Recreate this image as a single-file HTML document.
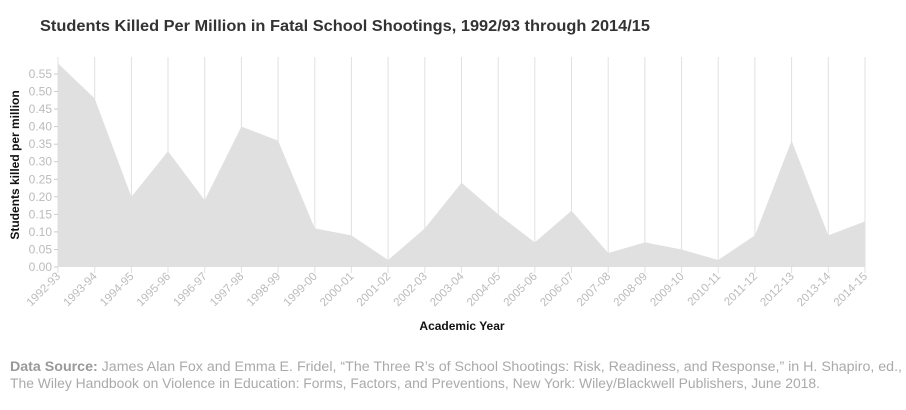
<!DOCTYPE html>
<html><head><meta charset="utf-8"><style>
html,body{margin:0;padding:0;background:#fff;}
svg{display:block;font-family:"Liberation Sans",sans-serif;}
</style></head><body>
<svg width="906" height="410" viewBox="0 0 906 410">
<text x="40" y="31" font-size="16" font-weight="bold" fill="#333" textLength="610" lengthAdjust="spacingAndGlyphs">Students Killed Per Million in Fatal School Shootings, 1992/93 through 2014/15</text>
<g stroke="#e0e0e0" stroke-width="1">
<line x1="58" y1="57" x2="58" y2="273"/><line x1="94.7" y1="57" x2="94.7" y2="273"/><line x1="131.4" y1="57" x2="131.4" y2="273"/><line x1="168" y1="57" x2="168" y2="273"/><line x1="204.7" y1="57" x2="204.7" y2="273"/><line x1="241.4" y1="57" x2="241.4" y2="273"/><line x1="278.1" y1="57" x2="278.1" y2="273"/><line x1="314.8" y1="57" x2="314.8" y2="273"/><line x1="351.4" y1="57" x2="351.4" y2="273"/><line x1="388.1" y1="57" x2="388.1" y2="273"/><line x1="424.8" y1="57" x2="424.8" y2="273"/><line x1="461.5" y1="57" x2="461.5" y2="273"/><line x1="498.2" y1="57" x2="498.2" y2="273"/><line x1="534.8" y1="57" x2="534.8" y2="273"/><line x1="571.5" y1="57" x2="571.5" y2="273"/><line x1="608.2" y1="57" x2="608.2" y2="273"/><line x1="644.9" y1="57" x2="644.9" y2="273"/><line x1="681.6" y1="57" x2="681.6" y2="273"/><line x1="718.2" y1="57" x2="718.2" y2="273"/><line x1="754.9" y1="57" x2="754.9" y2="273"/><line x1="791.6" y1="57" x2="791.6" y2="273"/><line x1="828.3" y1="57" x2="828.3" y2="273"/><line x1="865" y1="57" x2="865" y2="273"/>
</g>
<polygon fill="#e0e0e0" points="58,267 58,63.4 94.7,98.5 131.4,196.8 168,151.2 204.7,200.3 241.4,126.6 278.1,140.6 314.8,228.4 351.4,235.4 388.1,260 424.8,228.4 461.5,182.8 498.2,214.4 534.8,242.4 571.5,210.8 608.2,253 644.9,242.4 681.6,249.5 718.2,260 754.9,235.4 791.6,140.6 828.3,235.4 865,221.4 865,267"/>
<g font-size="12" fill="#bbb" text-anchor="end">
<text x="52" y="271">0.00</text><text x="52" y="253.5">0.05</text><text x="52" y="235.9">0.10</text><text x="52" y="218.4">0.15</text><text x="52" y="200.8">0.20</text><text x="52" y="183.3">0.25</text><text x="52" y="165.7">0.30</text><text x="52" y="148.2">0.35</text><text x="52" y="130.6">0.40</text><text x="52" y="113.1">0.45</text><text x="52" y="95.5">0.50</text><text x="52" y="78">0.55</text>
</g>
<g stroke="#ccc"><line x1="54" y1="267" x2="58" y2="267"/><line x1="54" y1="249.5" x2="58" y2="249.5"/><line x1="54" y1="231.9" x2="58" y2="231.9"/><line x1="54" y1="214.4" x2="58" y2="214.4"/><line x1="54" y1="196.8" x2="58" y2="196.8"/><line x1="54" y1="179.3" x2="58" y2="179.3"/><line x1="54" y1="161.7" x2="58" y2="161.7"/><line x1="54" y1="144.2" x2="58" y2="144.2"/><line x1="54" y1="126.6" x2="58" y2="126.6"/><line x1="54" y1="109.1" x2="58" y2="109.1"/><line x1="54" y1="91.5" x2="58" y2="91.5"/><line x1="54" y1="74" x2="58" y2="74"/></g>
<g font-size="11.5" fill="#bbb" text-anchor="end">
<text transform="translate(61,277) rotate(-45)">1992-93</text><text transform="translate(97.7,277) rotate(-45)">1993-94</text><text transform="translate(134.4,277) rotate(-45)">1994-95</text><text transform="translate(171,277) rotate(-45)">1995-96</text><text transform="translate(207.7,277) rotate(-45)">1996-97</text><text transform="translate(244.4,277) rotate(-45)">1997-98</text><text transform="translate(281.1,277) rotate(-45)">1998-99</text><text transform="translate(317.8,277) rotate(-45)">1999-00</text><text transform="translate(354.4,277) rotate(-45)">2000-01</text><text transform="translate(391.1,277) rotate(-45)">2001-02</text><text transform="translate(427.8,277) rotate(-45)">2002-03</text><text transform="translate(464.5,277) rotate(-45)">2003-04</text><text transform="translate(501.2,277) rotate(-45)">2004-05</text><text transform="translate(537.8,277) rotate(-45)">2005-06</text><text transform="translate(574.5,277) rotate(-45)">2006-07</text><text transform="translate(611.2,277) rotate(-45)">2007-08</text><text transform="translate(647.9,277) rotate(-45)">2008-09</text><text transform="translate(684.6,277) rotate(-45)">2009-10</text><text transform="translate(721.2,277) rotate(-45)">2010-11</text><text transform="translate(757.9,277) rotate(-45)">2011-12</text><text transform="translate(794.6,277) rotate(-45)">2012-13</text><text transform="translate(831.3,277) rotate(-45)">2013-14</text><text transform="translate(868,277) rotate(-45)">2014-15</text>
</g>
<text transform="translate(19,165) rotate(-90)" font-size="12" font-weight="bold" fill="#111" text-anchor="middle">Students killed per million</text>
<text x="462" y="330" font-size="12" font-weight="bold" fill="#111" text-anchor="middle">Academic Year</text>
<text x="10" y="371" font-size="13.5" fill="#aaa" textLength="892" lengthAdjust="spacingAndGlyphs"><tspan font-weight="bold" fill="#999">Data Source:</tspan> James Alan Fox and Emma E. Fridel, “The Three R’s of School Shootings: Risk, Readiness, and Response,” in H. Shapiro, ed.,</text>
<text x="10" y="388" font-size="13.5" fill="#aaa" textLength="810" lengthAdjust="spacingAndGlyphs">The Wiley Handbook on Violence in Education: Forms, Factors, and Preventions, New York: Wiley/Blackwell Publishers, June 2018.</text>
</svg>
</body></html>
